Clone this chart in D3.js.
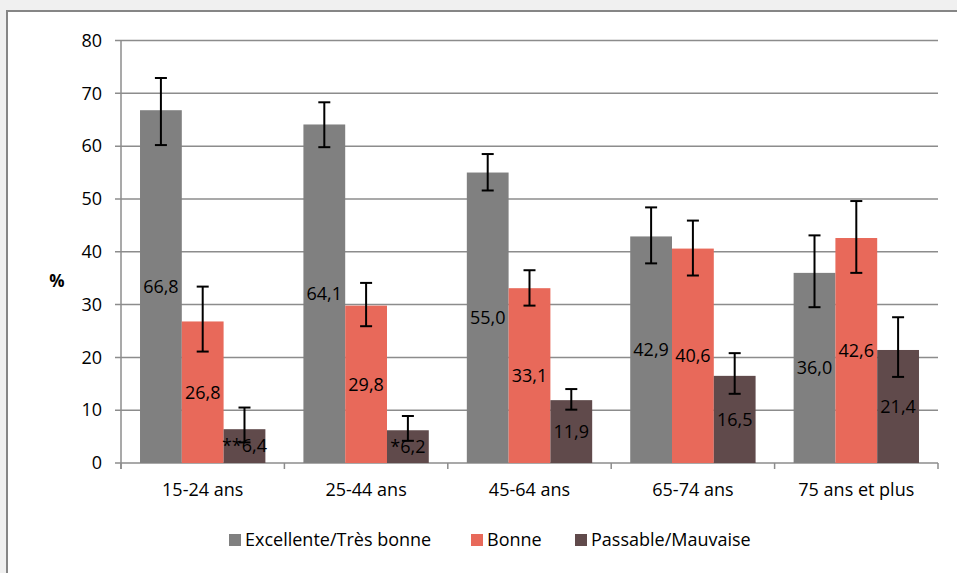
<!DOCTYPE html>
<html><head><meta charset="utf-8">
<script src="https://cdn.jsdelivr.net/npm/d3@7"></script>
<style>
html,body{margin:0;padding:0;background:#f0f0f0;}
svg{display:block;}
text{font-family:"Open Sans",Lato,sans-serif;fill:#000;}
</style></head>
<body>
<svg id="c" width="957" height="573"></svg>
<script>
const categories = ["15-24 ans","25-44 ans","45-64 ans","65-74 ans","75 ans et plus"];
const seriesNames = ["Excellente/Très bonne","Bonne","Passable/Mauvaise"];
const excellente = [66.8, 64.1, 55.0, 42.9, 36.0];
const bonne = [26.8, 29.8, 33.1, 40.6, 42.6];
const passable = [6.4, 6.2, 11.9, 16.5, 21.4];
const excellenteLow = [60.2, 59.8, 51.6, 37.8, 29.5];
const excellenteHigh = [72.9, 68.3, 58.5, 48.4, 43.1];
const bonneLow = [21.1, 25.9, 29.8, 35.5, 36.0];
const bonneHigh = [33.4, 34.1, 36.5, 45.9, 49.6];
const passableLow = [3.9, 4.2, 10.1, 13.1, 16.3];
const passableHigh = [10.5, 8.9, 14.0, 20.8, 27.6];
const labelPrefix = [["","","","",""],["","","","",""],["**","*","","",""]];
const yTicks = [0,10,20,30,40,50,60,70,80];
const colors = ["#808080","#E8695A","#604A4B"];

const values = [excellente, bonne, passable];
const lows = [excellenteLow, bonneLow, passableLow];
const highs = [excellenteHigh, bonneHigh, passableHigh];

const svg = d3.select("#c");
svg.append("rect").attr("x",7).attr("y",11).attr("width",960).attr("height",570)
  .attr("fill","#fff").attr("stroke","#868686").attr("stroke-width",2);

const L=121, R=938, T=40.5, B=463;
const y = d3.scaleLinear().domain([0,80]).range([B,T]);
const x0 = d3.scaleBand().domain(categories).range([L,R]).paddingInner(0).paddingOuter(0);
const x1 = d3.scaleBand().domain([0,1,2]).range([0,x0.bandwidth()]).paddingInner(0).paddingOuter(0.455);

// gridlines
svg.append("g").selectAll("line").data(yTicks).join("line")
  .attr("x1",L-6).attr("x2",R).attr("y1",d=>y(d)).attr("y2",d=>y(d))
  .attr("stroke","#8c8c8c").attr("stroke-width",1.5);
// y axis line
svg.append("line").attr("x1",L).attr("x2",L).attr("y1",T).attr("y2",B+6)
  .attr("stroke","#8c8c8c").attr("stroke-width",1.5);
// x tick marks
const bounds = categories.map(c=>x0(c)).concat([R]);
svg.append("g").selectAll("line").data(bounds).join("line")
  .attr("x1",d=>d).attr("x2",d=>d).attr("y1",B).attr("y2",B+6)
  .attr("stroke","#8c8c8c").attr("stroke-width",1.5);
// y tick labels
svg.append("g").selectAll("text").data(yTicks).join("text")
  .attr("x",L-19).attr("y",d=>y(d)).attr("dy","0.35em").attr("text-anchor","end")
  .attr("font-size",18).text(d=>d);
svg.append("text").attr("x",57).attr("y",281).attr("dy","0.35em").attr("text-anchor","middle")
  .attr("font-size",17).attr("font-weight","bold").text("%");

// bars
values.forEach((vals,s)=>{
  const g = svg.append("g");
  g.selectAll("rect").data(vals).join("rect")
    .attr("x",(d,i)=>x0(categories[i])+x1(s)).attr("width",x1.bandwidth())
    .attr("y",d=>y(d)).attr("height",d=>B-y(d)).attr("fill",colors[s]);
});
// labels
values.forEach((vals,s)=>{
  svg.append("g").selectAll("text").data(vals).join("text")
    .attr("x",(d,i)=>x0(categories[i])+x1(s)+x1.bandwidth()/2)
    .attr("y",d=>y(d/2)).attr("dy","0.35em").attr("text-anchor","middle")
    .attr("font-size",18)
    .text((d,i)=>labelPrefix[s][i]+d.toFixed(1).replace(".",","));
});
// error bars
values.forEach((vals,s)=>{
  const g = svg.append("g").attr("stroke","#000").attr("stroke-width",2);
  vals.forEach((v,i)=>{
    const cx = x0(categories[i])+x1(s)+x1.bandwidth()/2;
    g.append("line").attr("x1",cx).attr("x2",cx).attr("y1",y(highs[s][i])).attr("y2",y(lows[s][i]));
    [highs[s][i],lows[s][i]].forEach(e=>{
      g.append("line").attr("x1",cx-6).attr("x2",cx+6).attr("y1",y(e)).attr("y2",y(e));
    });
  });
});
// x labels
svg.append("g").selectAll("text").data(categories).join("text")
  .attr("x",d=>x0(d)+x0.bandwidth()/2).attr("y",490).attr("dy","0.35em")
  .attr("text-anchor","middle").attr("font-size",18).text(d=>d);

// legend
const legX = [229, 471, 575];
seriesNames.forEach((n,s)=>{
  svg.append("rect").attr("x",legX[s]).attr("y",534).attr("width",12).attr("height",12).attr("fill",colors[s]);
  svg.append("text").attr("x",legX[s]+16).attr("y",540).attr("dy","0.35em").attr("font-size",18).text(n);
});
</script>
</body></html>
